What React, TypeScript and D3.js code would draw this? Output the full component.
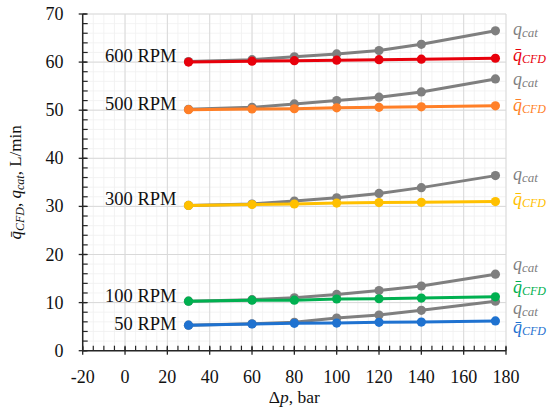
import React from "react";
import * as d3 from "d3";

const pressures = [30, 60, 80, 100, 120, 140, 175];
const rpmLabels = ["600 RPM", "500 RPM", "300 RPM", "100 RPM", "50 RPM"];
const seriesColors = ["#e8000b", "#ff7f27", "#ffc000", "#00b050", "#1f72d0"];
const qcatColor = "#7f7f7f";

const qcat600 = [60.1, 60.5, 61.1, 61.7, 62.4, 63.7, 66.5];
const qcfd600 = [60.0, 60.2, 60.3, 60.4, 60.5, 60.6, 60.8];
const qcat500 = [50.2, 50.6, 51.3, 52.0, 52.7, 53.8, 56.5];
const qcfd500 = [50.1, 50.25, 50.3, 50.5, 50.6, 50.7, 50.9];
const qcat300 = [30.2, 30.5, 31.1, 31.8, 32.7, 33.9, 36.4];
const qcfd300 = [30.2, 30.4, 30.5, 30.7, 30.8, 30.85, 31.0];
const qcat100 = [10.3, 10.6, 11.0, 11.7, 12.5, 13.45, 15.9];
const qcfd100 = [10.3, 10.5, 10.5, 10.75, 10.8, 10.95, 11.2];
const qcat50 = [5.3, 5.6, 5.9, 6.8, 7.4, 8.4, 10.3];
const qcfd50 = [5.3, 5.55, 5.7, 5.75, 5.9, 5.95, 6.2];

const qcatSeries = [qcat600, qcat500, qcat300, qcat100, qcat50];
const qcfdSeries = [qcfd600, qcfd500, qcfd300, qcfd100, qcfd50];

// label anchor values (data units)
const rpmLabelY = [60.1, 50.0, 30.3, 10.1, 4.3];
const qcatLabelY = [65.6, 55.2, 35.5, 16.7, 7.7];
const qcfdLabelY = [60.3, 49.9, 30.3, 12.0, 3.6];

const xMajorTicks = d3.range(-20, 181, 20);
const xMinorTicks = d3.range(-20, 181, 5);
const yMajorTicks = d3.range(0, 71, 10);
const yMinorTicks = d3.range(0, 71, 2);

const W = 550;
const H = 416;
const left = 82.7;
const right = 506;
const top = 14;
const bottom = 350.7;

const serif = "'Liberation Serif', 'Times New Roman', serif";

export default function App() {
  const x = d3.scaleLinear().domain([-20, 180]).range([left, right]);
  const y = d3.scaleLinear().domain([0, 70]).range([bottom, top]);
  const line = d3
    .line<number>()
    .x((_, i) => x(pressures[i]))
    .y((d) => y(d));

  return (
    <div style={{ position: "fixed", left: 0, top: 0, width: W, height: H, background: "#fff" }}>
      <svg width={W} height={H} style={{ display: "block" }}>
        <rect width={W} height={H} fill="#fff" />
        {/* minor grid */}
        {xMinorTicks.map((t) => (
          <line key={"xm" + t} x1={x(t)} x2={x(t)} y1={top} y2={bottom} stroke="#f0f0f0" strokeWidth={0.8} />
        ))}
        {yMinorTicks.map((t) => (
          <line key={"ym" + t} x1={left} x2={right} y1={y(t)} y2={y(t)} stroke="#f0f0f0" strokeWidth={0.8} />
        ))}
        {/* major grid */}
        {xMajorTicks.map((t) => (
          <line key={"xM" + t} x1={x(t)} x2={x(t)} y1={top} y2={bottom} stroke="#d9d9d9" strokeWidth={1} />
        ))}
        {yMajorTicks.map((t) => (
          <line key={"yM" + t} x1={left} x2={right} y1={y(t)} y2={y(t)} stroke="#d9d9d9" strokeWidth={1} />
        ))}

        {/* axes */}
        <line x1={left} x2={right} y1={bottom} y2={bottom} stroke="#262626" strokeWidth={1.5} />
        <line x1={left} x2={left} y1={top} y2={bottom} stroke="#262626" strokeWidth={1.5} />
        {xMinorTicks.map((t) => (
          <line key={"xt" + t} x1={x(t)} x2={x(t)} y1={bottom} y2={bottom - 5} stroke="#262626" strokeWidth={1.2} />
        ))}
        {xMajorTicks.map((t) => (
          <line key={"xT" + t} x1={x(t)} x2={x(t)} y1={bottom - 4} y2={bottom + 4} stroke="#262626" strokeWidth={1.3} />
        ))}
        {yMinorTicks.map((t) => (
          <line key={"yt" + t} x1={left} x2={left + 5} y1={y(t)} y2={y(t)} stroke="#262626" strokeWidth={1.2} />
        ))}
        {yMajorTicks.map((t) => (
          <line key={"yT" + t} x1={left - 4} x2={left + 4} y1={y(t)} y2={y(t)} stroke="#262626" strokeWidth={1.3} />
        ))}

        {/* tick labels */}
        {xMajorTicks.map((t) => (
          <text key={"xl" + t} x={x(t)} y={383} textAnchor="middle" fontFamily={serif} fontSize={18} fill="#111">
            {t}
          </text>
        ))}
        {yMajorTicks.map((t) => (
          <text key={"yl" + t} x={63.5} y={y(t) + 6} textAnchor="end" fontFamily={serif} fontSize={18} fill="#111">
            {t}
          </text>
        ))}

        {/* axis titles */}
        <text x={(left + right) / 2} y={403} textAnchor="middle" fontFamily={serif} fontSize={17.5} fill="#111">
          Δ<tspan fontStyle="italic">p</tspan>, bar
        </text>
        <text
          transform={`translate(21,${(top + bottom) / 2}) rotate(-90)`}
          textAnchor="middle"
          fontFamily={serif}
          fontSize={17}
          fill="#111"
        >
          <tspan fontStyle="italic">{"q\u0304"}</tspan>
          <tspan fontStyle="italic" fontSize={12} dy={3}>CFD</tspan>
          <tspan dy={-3}>, </tspan>
          <tspan fontStyle="italic">q</tspan>
          <tspan fontStyle="italic" fontSize={12} dy={3}>cat</tspan>
          <tspan dy={-3}>, L/min</tspan>
        </text>

        {/* series */}
        {qcatSeries.map((s, k) => (
          <g key={"cat" + k}>
            <path d={line(s) || ""} fill="none" stroke={qcatColor} strokeWidth={3} />
            {s.map((v, i) => (
              <circle key={i} cx={x(pressures[i])} cy={y(v)} r={4.6} fill={qcatColor} />
            ))}
          </g>
        ))}
        {qcfdSeries.map((s, k) => (
          <g key={"cfd" + k}>
            <path d={line(s) || ""} fill="none" stroke={seriesColors[k]} strokeWidth={3} />
            {s.map((v, i) => (
              <circle key={i} cx={x(pressures[i])} cy={y(v)} r={4.6} fill={seriesColors[k]} />
            ))}
          </g>
        ))}

        {/* RPM labels */}
        {rpmLabels.map((l, k) => (
          <text key={l} x={176.5} y={y(rpmLabelY[k])} textAnchor="end" fontFamily={serif} fontSize={18.5} fill="#111">
            {l}
          </text>
        ))}

        {/* right labels */}
        {qcatLabelY.map((v, k) => (
          <text key={"lc" + k} x={513} y={y(v)} fontFamily={serif} fontSize={18} fill={qcatColor}>
            <tspan fontStyle="italic">q</tspan>
            <tspan fontStyle="italic" fontSize={13} dy={2}>cat</tspan>
          </text>
        ))}
        {qcfdLabelY.map((v, k) => (
          <text key={"lf" + k} x={513} y={y(v)} fontFamily={serif} fontSize={18} fill={seriesColors[k]}>
            <tspan fontStyle="italic">{"q\u0304"}</tspan>
            <tspan fontStyle="italic" fontSize={12} dy={2}>CFD</tspan>
          </text>
        ))}
      </svg>
    </div>
  );
}
